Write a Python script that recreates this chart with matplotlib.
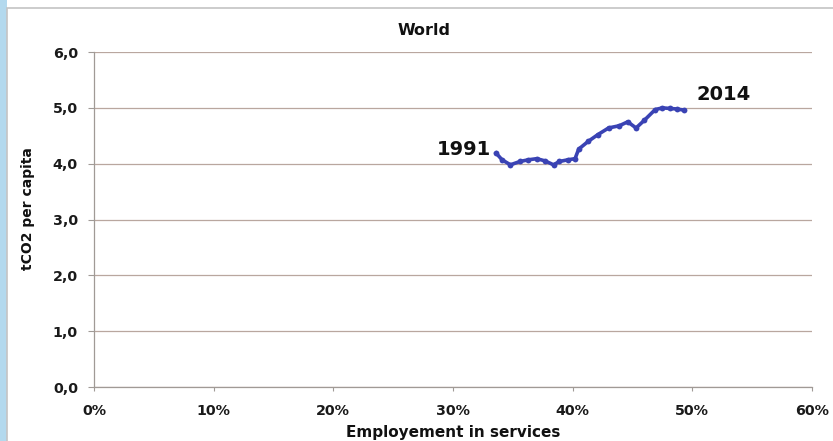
import matplotlib
matplotlib.use("Agg")
import matplotlib.pyplot as plt
from matplotlib.patches import Rectangle
from matplotlib.ticker import FuncFormatter

plt.rcParams['font.family'] = ['DejaVu Sans']

# Employment in services (%) and CO2 emissions per capita (t), 1991-2014
years = list(range(1991, 2015))
services_share = [33.6, 34.1, 34.8, 35.6, 36.3, 37.0, 37.7, 38.4, 38.9, 39.6,
                  40.2, 40.5, 41.3, 42.1, 43.0, 43.9, 44.6, 45.3, 46.0, 46.9,
                  47.5, 48.1, 48.7, 49.3]
co2_per_capita = [4.19, 4.07, 3.98, 4.04, 4.07, 4.09, 4.05, 3.98, 4.04, 4.07,
                  4.09, 4.26, 4.40, 4.52, 4.64, 4.68, 4.75, 4.64, 4.78, 4.97,
                  5.00, 4.99, 4.98, 4.96]

x_ticks = [0, 10, 20, 30, 40, 50, 60]
y_ticks = [0, 1, 2, 3, 4, 5, 6]

fig = plt.figure(figsize=(8.33, 4.41), dpi=100)
fig.patch.set_facecolor('white')

# light blue slide strip on the left and the chart frame
fig.patches.append(Rectangle((0, 0), 0.009, 1, transform=fig.transFigure,
                             facecolor='#b3d9ee', edgecolor='none', zorder=-3))
fig.patches.append(Rectangle((0.0085, -0.02), 1.0, 1.002, transform=fig.transFigure,
                             facecolor='white', edgecolor='#c4c4c4', linewidth=1.2,
                             zorder=-2))

ax = fig.add_axes([0.1128, 0.1224, 0.862, 0.7596])
ax.set_zorder(1)
ax.set_facecolor('none')

ax.plot(services_share, co2_per_capita, color='#3a43b4', linewidth=2.6,
        marker='o', markersize=4.2, markeredgewidth=0, zorder=3)

ax.set_xlim(0, 60)
ax.set_ylim(0, 6)
ax.set_xticks(x_ticks)
ax.set_yticks(y_ticks)
ax.xaxis.set_major_formatter(FuncFormatter(lambda v, p: f"{int(v)}%"))
ax.yaxis.set_major_formatter(FuncFormatter(lambda v, p: f"{v:.1f}".replace('.', ',')))

ax.grid(axis='y', color='#b9a79f', linewidth=0.9)
ax.set_axisbelow(True)
for side in ['top', 'right']:
    ax.spines[side].set_visible(False)
for side in ['left', 'bottom']:
    ax.spines[side].set_color('#a09a96')
    ax.spines[side].set_linewidth(0.9)

ax.tick_params(axis='both', colors='#a09a96', width=0.8,
               labelcolor='#1a1a1a', labelsize=10.3)
ax.tick_params(axis='y', length=4.5, pad=7)
ax.tick_params(axis='x', length=3, pad=9.5)
for lbl in ax.get_xticklabels() + ax.get_yticklabels():
    lbl.set_fontweight('bold')

ax.set_xlabel('Employement in services', fontsize=11, fontweight='bold',
              color='#111111')
ax.xaxis.set_label_coords(0.5, -0.112)
ax.set_ylabel('tCO2 per capita', fontsize=10, fontweight='bold',
              color='#111111', va='center')
ax.yaxis.set_label_coords(-0.092, 0.534)
ax.set_title('World', fontsize=11.5, fontweight='bold', color='#111111',
             x=0.46, pad=12.5)

ax.annotate(str(years[0]), (services_share[0], co2_per_capita[0]),
            xytext=(-3.5, 2.7), textcoords='offset points', ha='right', va='center',
            fontsize=14, fontweight='bold', color='#111111')
ax.annotate(str(years[-1]), (services_share[-1], co2_per_capita[-1]),
            xytext=(9, 11), textcoords='offset points', ha='left', va='center',
            fontsize=14, fontweight='bold', color='#111111')

fig.savefig('out.png', dpi=100)
